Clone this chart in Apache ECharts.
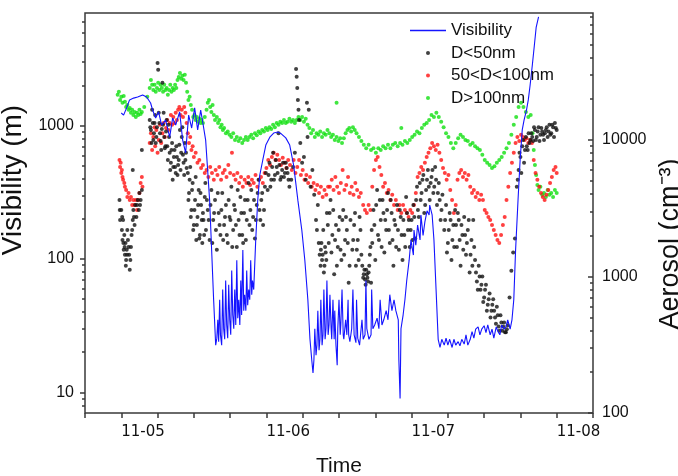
<!DOCTYPE html>
<html><head><meta charset="utf-8">
<script src="https://cdn.jsdelivr.net/npm/echarts@6/dist/echarts.min.js"></script>
<style>html,body{margin:0;padding:0;background:#fff}#c{width:678px;height:476px}</style>
</head><body><div id="c"></div>
<script>
// x values are hours after 11-05 00:00
const dayLabels = ['11-05', '11-06', '11-07', '11-08'];
const dayHours = [0, 24, 48, 72];
const visTickLabels = [10, 100, 1000];
const aeroTickLabels = [100, 1000, 10000];

const visibility = [
[0,1245],[0.38,1200],[0.88,1360],[1.37,1560],[2.04,1610],[2.7,1640],[3.53,1700],[4.19,1640],[4.85,1480],[5.18,1310],[5.68,1140],[6.17,1270],[6.67,1010],[7.33,1100],[8.0,820],[8.49,1140],[8.99,1010],[9.65,1270],[10.15,780],[10.64,625],[11.14,1200],[11.64,960],[12.13,1360],[12.63,930],[13.13,1310],[13.46,1070],[13.95,780],[14.28,465],[14.61,275],[14.94,117],[15.27,49.5],[15.61,22.6],
[15.8,25.5],[15.96,35],[16.1,24],[16.27,49.5],[16.4,27],[16.6,22.6],[16.77,59],[16.93,30],[17.1,25],[17.26,69],[17.43,32],[17.6,25.5],[17.76,64],[17.93,35],[18.1,27],[18.26,82],[18.43,38],[18.6,30],[18.76,59],[18.93,32],[19.1,98],[19.26,36],[19.42,49.5],[19.6,32],[19.76,69],[19.9,38],[20.1,117],[20.25,41],[20.4,54],[20.6,41],[20.74,82],[20.9,45],[21.07,59],[21.24,49.5],[21.4,98],[21.57,54],[21.7,69],[21.9,59],[22.23,139],[22.56,275],[22.9,426],[23.4,553],[23.9,716],[24.56,820],[25.2,880],[25.9,897],[26.5,865],[27.2,810],[27.85,716],[28.5,505],[29.2,275],[29.85,165],[30.35,98],[30.85,49.5],[31.2,25],[31.5,17.4],[31.7,14],
[31.85,17.4],[32.0,30],[32.2,19],[32.35,22.6],[32.5,41],[32.7,20.7],[32.85,25],[33.0,49.5],[33.2,22.6],[33.35,27],[33.5,59],[33.7,25],[33.85,30],[34.0,69],[34.2,27],[34.35,32],[34.5,54],[34.7,30],[34.8,25],[35.0,49.5],[35.2,25],[35.3,41],[35.5,22.6],[35.7,16],[35.8,30],[36.0,49.5],[36.2,27],[36.3,32],[36.5,59],[36.7,27],[36.8,25],[37.1,35],[37.3,27],[37.5,49.5],[37.6,27],[37.8,24],[38.1,30],[38.3,59],[38.5,27],[38.8,23.6],[38.9,49.5],[39.1,25.5],[39.4,22.6],[39.8,35],[40.0,25],[40.3,27],[40.45,69],[40.6,30],[40.95,25],[41.3,27],[41.4,59],[41.6,30],[41.9,32],[42.3,36],[42.6,30],[42.8,49.5],[43.1,32],[43.4,35],[43.8,41],[44.1,35],[44.4,54],[44.75,41],[45.1,49.5],[45.4,41],[45.8,35],[45.9,17.4],[46.1,9],[46.25,30],[46.6,38],[46.9,49.5],[47.2,69],[47.6,98],[47.9,139],[48.3,107],[48.4,165],[48.7,127],[49.0,180],[49.4,139],[49.55,214],[49.9,150],[50.2,190],[50.56,230],[50.9,214],[51.0,254],[51.4,214],[51.7,139],[52.05,59],[52.4,25],[52.7,21.7],[53.0,25],[53.4,22.6],[53.7,25.5],[54.0,22.6],[54.3,25],[54.7,21.7],[55.0,25],[55.3,22.6],[55.7,24],[56.0,22.3],[56.3,25],[56.7,23],[57.0,27],[57.3,22.6],[57.7,25],[58.0,28.5],[58.3,25.5],[58.6,29.8],[59.0,31],[59.3,27],[59.6,29.8],[60.0,31.6],[60.3,28],[60.6,32],[61.0,27],[61.3,29.8],[61.6,25.5],[62.0,31],[62.3,28.5],[62.6,27],[62.9,32],[63.3,29.8],[63.6,31],[63.9,35],[64.3,29.8],[64.6,35],[64.9,49.5],[65.2,117],[65.6,275],[65.95,553],[66.3,930],[66.6,1100],[67.0,1310],[67.3,1560],[67.6,2010],[67.96,2830],[68.3,3990],[68.6,5450],[69.0,6550]
];

const dSmall = [
[-0.3,3630],[-0.2,2590],[0.0,3070],[0.1,2190],[0.2,1850],[0.3,2590],[0.4,1570],[0.5,2010],[0.6,1440],[0.7,1760],[0.8,1320],[0.9,1570],[1.0,2190],[1.1,1850],[1.3,1440],[1.4,1120],[1.5,1320],[1.6,1640],[1.8,2190],[1.9,2590],[1.9,6030],[2.0,3070],[2.2,2380],[2.3,3340],[2.5,2730],[2.7,3630],[2.9,3070],[3.0,4090],[3.2,3630],[3.4,4300],[3.4,8450],
[-0.25,3070],[0.15,2730],[0.35,1760],[0.55,1640],[0.75,1200],[0.95,1440],[1.2,1640],[1.7,2010],[2.1,2730],[2.6,3340],[3.1,3340],
[4.7,14000],[4.9,11800],[5.1,16600],[5.3,10000],[5.5,13300],[5.7,9500],[5.9,12400],[6.0,36600],[6.1,32600],[6.2,15800],[6.4,11200],[6.6,8450],[6.8,26200],[6.9,12900],[7.1,10500],[7.3,9000],[7.5,14000],
[4.8,12400],[5.0,9500],[5.2,13300],[5.4,11200],[5.6,15200],[5.8,10500],[6.3,13300],[6.5,9800],[6.7,12000],[7.0,15800],[7.2,8700],[7.4,11500],[7.6,9000],[7.8,12900],[8.0,8040],[8.2,6800],[8.4,9500],[8.6,6340],[8.8,8450],[9.0,5730],[9.2,7500],[9.4,6560],[9.6,9200],[9.8,6030],[10.0,10500],[10.2,7800],[10.4,5540],[10.6,7130],[10.8,6240],
[7.7,7130],[7.9,10500],[8.1,6030],[8.3,8450],[8.5,5100],[8.7,7500],[8.9,6340],[9.1,9000],[9.3,5540],[9.5,7130],[9.7,11800],[9.9,8040],[10.1,12400],[10.3,6800],[10.5,9500],[10.7,8040],
[11.0,5730],[11.2,4090],[11.4,6340],[11.6,3070],[11.8,4840],[12.0,2380],[12.2,3630],[12.4,1850],[12.6,2730],[12.8,4300],[13.0,2010],[13.2,3340],[13.4,1760],[13.6,2590],[13.8,3820],
[11.1,3630],[11.3,5100],[11.5,2730],[11.7,4300],[11.9,2190],[12.1,3070],[12.3,5360],[12.5,2380],[12.7,3340],[12.9,1900],[13.1,4090],[13.3,2590],[13.5,2920],[13.7,2010],[13.9,4840],
[14.0,2190],[14.3,3070],[14.6,1850],[14.9,4300],[15.2,2590],[15.5,3630],[15.8,1570],[16.1,2920],[16.4,2010],[16.7,4090],[17.0,2380],[17.3,3340],[17.6,1760],[17.9,2730],[18.2,4530],[18.5,2190],[18.8,3070],[19.1,1640],[19.4,2590],[19.7,3820],[20.0,2010],[20.3,2920],[20.6,1850],
[14.15,3630],[14.45,2590],[14.75,3340],[15.05,1760],[15.35,2920],[15.65,2190],[15.95,4090],[16.25,2380],[16.55,3070],[16.85,1850],[17.15,2730],[17.45,2010],[17.75,3630],[18.05,2590],[18.35,1640],[18.65,3340],[18.95,2380],[19.25,4300],[19.55,2010],[19.85,2920],[20.15,1760],[20.45,3630],[20.75,2590],
[20.9,3630],[21.2,2380],[21.5,4300],[21.8,2730],[22.1,1900],[22.4,3340],[22.7,5100],[23.0,2590],[23.3,4090],[23.6,3070],[23.9,5730],
[21.05,4840],[21.35,3070],[21.65,2190],[21.95,3630],[22.25,2590],[22.55,4090],[22.85,3070],[23.15,3630],[23.45,2380],[23.75,4530],
[24.2,4300],[24.5,6800],[24.8,5100],[25.1,8040],[25.4,5540],[25.7,6340],[26.0,11200],[26.3,5100],[26.6,6030],[26.9,5360],[27.2,6800],[27.5,5730],
[24.35,5540],[24.65,4530],[24.95,6340],[25.25,5100],[25.55,7130],[25.85,5730],[26.15,6560],[26.45,5360],[26.75,6800],[27.05,5730],[27.35,6240],[27.65,5100],
[27.8,4530],[28.1,5100],[28.4,6340],[28.7,8040],[28.9,33000],[29.0,29000],[29.1,24000],[29.2,19600],[29.3,16600],[29.4,14000],[29.6,9500],[29.9,6800],[30.2,7500],[30.5,5100],[30.7,18700],[30.8,10500],[31.0,16600],[31.3,4530],[31.6,6030],[31.9,3960],
[32.2,2590],[32.5,3340],[32.8,1440],[33.0,1570],[33.2,1320],[33.4,2190],[33.6,1200],[33.8,1500],[34.0,2920],[34.3,1760],[34.6,3630],[34.9,2010],[35.2,1040],[35.5,2380],[35.8,1640],[36.1,2730],[36.4,1320],[36.7,3070],[37.0,1850],[37.3,2190],[37.6,900],[37.9,2590],
[32.35,2190],[32.65,1760],[32.95,1200],[33.1,1760],[33.3,1440],[33.5,1070],[33.7,1640],[33.9,1320],[34.15,2380],[34.45,2920],[34.75,1500],[35.05,3070],[35.35,1850],[35.65,1200],[35.95,2190],[36.25,1570],[36.55,2590],[36.85,1440],[37.15,2730],[37.45,1760],[37.75,1200],
[38.2,1570],[38.5,2380],[38.8,1200],[39.1,1850],[39.4,2730],[39.7,1440],[40.0,980],[40.2,1120],[40.4,870],[40.6,1040],[40.8,920],[41.0,1200],[41.2,1640],[41.4,2190],
[38.35,1850],[38.65,2920],[38.95,1570],[39.25,1320],[39.55,2190],[39.85,1200],[40.1,1040],[40.3,950],[40.5,1120],[40.7,980],[40.9,1070],[41.1,1440],[41.3,900],[41.5,1760],
[41.7,3070],[42.0,1320],[42.3,4300],[42.6,1850],[42.9,2590],[43.2,3630],[43.5,1500],[43.8,2190],[44.1,4090],[44.4,1760],[44.7,2920],[45.0,1200],[45.3,2380],[45.6,3340],[45.9,1570],[46.2,2730],[46.5,1320],[46.8,2010],[47.1,3820],[47.4,2190],
[41.85,2380],[42.15,3340],[42.45,2010],[42.75,3630],[43.05,1640],[43.35,2920],[43.65,2590],[43.95,3070],[44.25,2190],[44.55,3630],[44.85,1850],[45.15,2590],[45.45,1640],[45.75,2190],[46.05,3070],[46.35,2010],[46.65,2590],[46.95,1640],[47.25,2920],[47.55,2590],
[47.7,1640],[48.0,2590],[48.3,3340],[48.6,1900],[48.9,4530],[49.2,2730],[49.5,3630],[49.8,5100],[50.1,2920],[50.4,4300],[50.7,6030],[51.0,3630],[51.3,5360],[51.6,4090],[51.9,6340],[52.2,3340],[52.5,4840],[52.8,2590],[53.1,3960],
[47.85,2190],[48.15,1850],[48.45,2730],[48.75,3630],[49.05,3070],[49.35,4840],[49.65,4090],[49.95,5540],[50.25,3340],[50.55,5100],[50.85,4530],[51.15,4840],[51.45,6030],[51.75,4530],[52.05,5100],[52.35,4090],[52.65,3630],[52.95,3070],
[53.4,2190],[53.7,3340],[54.0,1760],[54.3,2920],[54.6,1320],[54.9,2380],[55.2,3070],[55.5,1640],[55.8,2590],[56.1,1200],[56.4,2010],[56.7,2730],[57.0,1440],[57.3,2190],[57.6,1070],[57.9,1850],[58.2,2590],[58.5,1320],
[53.55,2590],[53.85,1500],[54.15,2190],[54.45,2590],[54.75,1850],[55.05,1640],[55.35,2380],[55.65,2920],[55.95,1850],[56.25,2380],[56.55,1570],[56.85,2010],[57.15,1760],[57.45,2590],[57.75,1440],[58.05,1200],[58.35,1640],
[58.8,920],[59.1,1200],[59.4,800],[59.7,1000],[60.0,700],[60.3,870],[60.6,620],[60.9,750],[61.2,560],[61.5,680],[61.8,500],[62.1,600],[62.4,430],[62.7,520],[63.0,400],[63.3,460],[63.6,390],[63.9,440],
[58.65,1070],[58.95,800],[59.25,1000],[59.55,870],[59.85,650],[60.15,800],[60.45,560],[60.75,680],[61.05,500],[61.35,620],[61.65,560],[61.95,450],[62.25,520],[62.55,400],[62.85,460],[63.15,430],[63.45,390],[63.75,410],
[64.2,700],[64.5,1100],[64.8,1500],[65.1,1900],
[65.4,4530],[65.7,6030],[66.0,7500],[66.3,9000],[66.6,6800],[66.9,10500],[67.2,8450],[67.5,9500],
[65.55,5100],[65.85,8040],[66.15,5730],[66.45,10000],[66.75,8450],[67.05,9000],[67.35,11200],[67.65,10000],
[67.8,11200],[68.1,9800],[68.4,11800],[68.7,10500],[69.0,12400],[69.3,10900],[69.6,11500],[69.9,10000],[70.2,11800],[70.5,10500],[70.8,12900],[71.1,11200],[71.4,12400],[71.7,13300],[72.0,11800],
[67.95,10500],[68.25,12400],[68.55,10000],[68.85,11500],[69.15,9800],[69.45,12200],[69.75,10900],[70.05,11200],[70.35,12400],[70.65,11500],[70.95,10900],[71.25,12900],[71.55,10500],[71.85,12200]
];

const dMid = [
[-0.3,7130],[-0.2,6340],[-0.1,6800],[0.0,5730],[0.1,6030],[0.2,5360],[0.3,5100],[0.5,4840],[0.6,4530],[0.8,4300],[1.0,3820],[1.2,4090],[1.4,3630],[1.6,3820],[1.8,3340],[2.0,3630],[2.2,3340],[2.4,3630],[2.6,3070],[2.8,3630],[3.0,4090],[3.2,4840],[3.4,5360],[3.5,4530],
[4.7,9500],[4.9,11200],[5.1,8450],[5.3,10500],[5.5,12400],[5.6,9000],[5.8,11800],[6.0,8040],[6.2,10000],[6.4,12900],[6.6,9500],[6.8,11200],[7.0,13300],[7.2,10500],[7.4,12200],[7.6,14000],[7.8,11800],[8.0,13300],[8.2,15200],[8.4,12900],[8.6,14700],[8.8,13300],[9.0,15800],[9.2,14000],[9.4,16600],[9.6,17400],[9.8,15200],[10.0,16600],[10.2,14700],[10.4,17400],[10.6,15800],[10.8,13300],[11.0,11200],[11.2,9500],[11.4,10500],[11.6,8450],[11.8,9000],[12.0,7500],[12.3,8040],[12.6,6800],[12.9,7130],[13.2,6240],[13.5,6560],[13.8,5730],[14.1,6030],[14.4,5360],[14.7,6340],[15.0,5730],[15.3,5100],[15.6,6030],[15.9,5540],[16.2,6340],[16.5,5100],[16.8,5730],[17.1,6030],[17.4,5360],[17.7,6560],[18.0,5730],[18.3,8040],[18.6,5540],[18.9,5100],[19.2,5730],[19.5,4840],[19.8,5360],[20.1,4530],[20.4,5100],[20.7,4840],[21.0,5360],[21.3,4680],[21.6,5100],[21.9,4840],[22.2,5540],[22.5,4530],[22.8,5100],[23.1,5360],[23.4,4840],[23.7,5730],[24.0,6240],[24.3,7130],[24.6,6560],[24.9,7500],[25.2,8040],[25.5,7130],[25.8,7800],[26.1,7130],[26.4,6560],[26.7,7390],[27.0,6800],[27.3,6240],[27.6,7130],[27.9,6560],[28.2,6030],[28.5,7130],[28.8,5730],[29.1,6340],[29.4,7130],[29.7,5540],[30.0,6030],[30.3,5100],[30.6,5540],[30.9,4840],[31.2,5360],[31.5,4530],[31.8,4840],[32.1,4300],[32.4,4680],[32.7,4090],[33.0,4530],[33.3,3820],[33.6,4300],[33.9,3960],[34.2,4530],
[34.5,4530],[34.8,5100],[35.1,4300],[35.4,5360],[35.7,4530],[36.0,4090],[36.3,4840],[36.6,6030],[36.9,4300],[37.2,4680],[37.5,5360],[37.8,4090],[38.1,4530],[38.4,3960],[38.7,4840],[39.0,4300],[39.3,3820],[39.6,4090],[40.0,3340],[40.3,3070],[40.6,2920],[40.9,3340],[41.2,3070],[41.5,4530],[41.8,6030],[42.1,7130],[42.4,7500],[42.7,6340],[43.0,5540],[43.3,4530],[43.6,4840],[43.9,4090],[44.2,4300],[44.5,3630],[44.8,3960],[45.1,3340],[45.4,3630],[45.7,3070],[46.0,3340],[46.3,2920],[46.6,3340],[46.9,3070],[47.2,2920],[47.5,2730],[47.8,3070],[48.1,2920],[48.4,3340],[48.7,4090],[49.0,5360],[49.3,5730],[49.6,6340],[49.9,6030],[50.2,6800],[50.5,7500],[50.8,8040],[51.1,8700],[51.4,9500],[51.7,9000],[52.0,8450],[52.3,9200],[52.6,8040],[52.9,7130],[53.2,6240],[53.5,5730],[53.8,5100],[54.1,5540],[54.4,4300],[54.7,3630],[55.0,2920],[55.3,3340],[55.6,5100],[55.9,5730],[56.2,6030],[56.5,5360],[56.8,5730],[57.1,5100],[57.4,5540],[57.7,4530],[58.0,4090],[58.3,4300],[58.6,3820],[58.9,4090],[59.2,3630],[59.5,3960],[59.8,3630],[60.1,3070],[60.4,2920],[60.7,2730],[61.0,2590],[61.3,2380],[61.6,2190],[61.9,2010],[62.2,1850],[62.5,1760],[62.8,2010],[63.1,2380],[63.4,2730],[63.7,3630],[64.0,4530],[64.3,5730],[64.6,6800],[64.9,8040],[65.2,9500],[65.5,10500],[65.8,9800],[66.1,10900],[66.4,10500],[66.7,10000],[67.0,10300],[67.3,9500],[67.6,10000],[67.9,9500],[68.2,7130],[68.5,5730],[68.8,5100],[69.1,4530],[69.4,4090],[69.7,3820],[70.0,3630],[70.3,3960],[70.6,4300],[70.9,4840],[71.2,5360],[71.5,6030],[71.8,6340],[72.0,5730]
];

const dLarge = [
[-0.6,21400],[-0.4,22500],[-0.2,19600],[0.0,20700],[0.2,18700],[0.4,21000],[0.6,19000],[0.8,17400],[1.0,18000],[1.2,16600],[1.4,17100],[1.6,15800],[1.8,16600],[2.0,15200],[2.2,16000],[2.4,14700],[2.6,15800],[2.8,15200],[3.0,16600],[3.2,15500],[3.4,16000],[3.8,17400],[4.3,20700],
[4.7,24000],[4.9,27500],[5.1,25300],[5.3,23200],[5.5,25300],[5.7,22500],[5.9,24000],[6.1,26200],[6.3,23200],[6.5,25300],[6.7,24000],[6.9,22500],[7.1,25300],[7.3,23200],[7.5,24000],[7.7,21400],[7.9,23200],[8.1,25300],[8.3,22500],[8.5,24000],[8.7,23200],[8.9,25300],[9.1,24000],[9.3,27500],[9.5,28900],[9.7,30900],[9.9,28000],[10.1,29500],[10.3,27500],[10.5,30000],[10.7,26200],[10.9,22500],[11.1,19600],[11.3,20700],[11.5,18000],[11.7,16600],[11.9,14700],[12.1,15200],[12.3,14000],[12.5,14700],[12.7,13600],[12.9,14300],[13.1,13300],[13.3,14000],[13.5,13300],[13.8,14700],[14.1,16600],[14.3,18700],[14.5,19600],[14.7,17400],[14.9,16000],[15.1,18000],[15.3,15200],[15.5,14000],[15.8,14700],[16.0,13300],[16.2,14000],[16.4,12400],[16.6,12900],[16.8,11800],[17.0,12200],[17.3,11200],[17.6,11500],[17.9,10900],[18.2,10500],[18.5,11200],[18.8,10000],[19.1,10500],[19.4,9800],[19.7,10300],[20.0,9500],[20.3,10000],[20.6,10500],[20.9,10000],[21.2,10500],[21.5,10900],[21.8,10300],[22.1,11200],[22.4,10800],[22.7,11500],[23.0,11200],[23.3,11800],[23.6,11500],[23.9,12200],[24.2,11800],[24.5,12400],[24.8,12000],[25.1,12900],[25.4,12400],[25.7,13300],[26.0,12900],[26.3,13600],[26.6,13300],[26.9,14000],[27.2,13300],[27.5,13600],[27.8,14300],[28.1,13600],[28.4,14000],[28.7,13300],[29.0,14000],[29.3,14700],[29.6,14000],[29.9,14700],[30.2,13600],[30.5,14300],[30.8,12900],[31.1,12200],[31.4,11200],[31.7,11800],[32.0,10500],[32.3,11200],[32.6,10900],[32.9,11500],[33.2,10500],[33.5,11200],[33.8,10900],[34.1,11800],[34.4,11200],[34.7,10500],[35.0,10900],[35.3,10000],[35.6,10500],[35.9,9800],[36.2,10300],[36.5,9500],[36.8,10300],[35.6,18700],[37.1,11200],[37.4,11800],[37.7,12200],[38.0,11500],[38.3,12400],[38.6,11800],[38.9,11200],[39.3,10500],[39.7,9800],[40.1,9200],[40.5,8700],[40.9,9200],[41.3,8450],[41.7,8700],[42.1,8040],[42.5,8700],[42.9,8450],[43.3,9000],[43.7,8700],[44.1,9200],[44.5,8700],[44.9,9200],[45.3,9500],[45.7,9000],[46.1,9500],[46.3,12200],[46.5,9200],[46.9,9800],[47.3,9500],[47.7,10000],[48.1,10500],[48.5,10900],[48.9,11500],[49.3,11200],[49.7,12200],[50.1,12900],[50.5,13300],[50.9,14000],[51.3,15200],[51.7,14700],[52.1,15800],[52.5,14700],[52.9,13600],[53.3,12400],[53.7,11200],[54.1,10500],[54.5,9500],[54.9,8700],[55.3,9500],[55.7,10300],[56.1,10900],[56.5,10500],[56.9,10000],[57.3,9800],[57.7,9200],[58.1,9500],[58.5,9000],[58.9,8700],[59.3,8450],[59.7,7800],[60.1,7130],[60.5,6800],[60.9,6560],[61.3,6240],[61.7,6400],[62.1,6800],[62.5,7130],[62.9,7500],[63.3,8040],[63.7,8700],[64.1,9500],[64.5,10900],[64.9,12900],[65.3,14700],[65.7,17400],[66.1,18700],[66.5,17400],[66.9,16000],[67.3,14700],[67.7,15200],[68.0,11200],[68.2,8450],[68.4,6560],[68.6,5540],[68.8,4680],[69.0,4300],[69.3,4530],[69.6,3960],[69.9,4090],[70.2,3820],[70.5,4300],[70.8,3960],[71.1,4090],[71.4,3820],[71.7,4300],[72.0,4090]
];

const visMin = 7, visMax = 7000, aeroMin = 100, aeroMax = 85000;
const L = Math.log10;
function minorTicks(lo, hi) {
  const out = [];
  for (let e = -1; e <= 6; e++) for (let k = 2; k <= 9; k++) {
    const v = k * Math.pow(10, e);
    if (v > lo * 1.001 && v < hi * 0.999) out.push(L(v));
  }
  return out;
}
const axisColor = '#3a3a3a';
const txt = '#111';
const chart = echarts.init(document.getElementById('c'), null, {renderer: 'canvas'});
function tickAxis(pos, lo, hi, vals, len, inside, labels, extra) {
  return Object.assign({
    type: 'value', position: pos, min: L(lo), max: L(hi), splitLine: {show: false},
    axisLine: {show: false},
    axisTick: {show: true, customValues: vals, length: len, inside: inside, lineStyle: {color: axisColor, width: 1.5}},
    axisLabel: labels ? {show: true, customValues: vals, formatter: v => String(Math.round(Math.pow(10, v))), fontSize: 16, fontFamily: 'Liberation Sans', color: txt, margin: pos === 'left' ? 11 : 9} : {show: false}
  }, extra || {});
}
const legendText = {fontSize: 17, fontFamily: 'Liberation Sans', color: txt};
chart.setOption({
  animation: false,
  grid: {left: 85, right: 85, top: 13, bottom: 63, show: true, borderColor: axisColor, borderWidth: 1.5, containLabel: false, outerBoundsMode: 'none'},
  legend: [
    {orient: 'vertical', left: 410, top: 22, itemWidth: 36, itemHeight: 1.5, padding: 0,
     data: [{name: 'Visibility', icon: 'rect'}], textStyle: legendText},
    {orient: 'vertical', left: 426, top: 44.5, itemWidth: 36, itemHeight: 4, itemGap: 5.5, padding: 0,
     data: [{name: 'D<50nm', icon: 'circle'}, {name: '50<D<100nm', icon: 'circle'}, {name: 'D>100nm', icon: 'circle'}], textStyle: legendText}
  ],
  xAxis: [{
    type: 'value', min: -6, max: 78, interval: 6, splitLine: {show: false},
    axisLine: {show: false},
    axisTick: {show: true, length: 5, lineStyle: {color: axisColor, width: 1.5}},
    axisLabel: {formatter: v => { const i = dayHours.indexOf(v); return i >= 0 ? dayLabels[i] : ''; }, align: 'left', margin: 12, fontSize: 15, fontFamily: 'DejaVu Sans', color: txt},
    name: 'Time', nameLocation: 'middle', nameGap: 43, nameTextStyle: {fontSize: 21, fontFamily: 'Liberation Sans', color: txt}
  }],
  yAxis: [
    {type: 'log', logBase: 10, min: visMin, max: visMax, position: 'left', show: false},
    tickAxis('left', visMin, visMax, visTickLabels.map(L), 5, false, true, {
      name: 'Visibility (m)', nameLocation: 'middle', nameGap: 55,
      nameTextStyle: {fontSize: 28, fontFamily: 'Liberation Sans', color: txt, padding: [0, 0, 0, 66]}}),
    tickAxis('left', visMin, visMax, minorTicks(visMin, visMax), 3, false, false),
    {type: 'log', logBase: 10, min: aeroMin, max: aeroMax, position: 'right', show: false},
    tickAxis('right', aeroMin, aeroMax, aeroTickLabels.map(L), 5, true, true, {
      name: 'Aerosol (cm⁻³)', nameLocation: 'middle', nameGap: 61,
      nameTextStyle: {fontSize: 27, fontFamily: 'Liberation Sans', color: txt, padding: [0, 62, 0, 0]}}),
    tickAxis('right', aeroMin, aeroMax, minorTicks(aeroMin, aeroMax), 3, true, false)
  ],
  series: [
    {name: 'D>100nm', type: 'scatter', yAxisIndex: 3, data: dLarge, symbol: 'circle', symbolSize: 4, itemStyle: {color: '#10e010'}},
    {name: '50<D<100nm', type: 'scatter', yAxisIndex: 3, data: dMid, symbol: 'circle', symbolSize: 4, itemStyle: {color: '#ff1010'}},
    {name: 'D<50nm', type: 'scatter', yAxisIndex: 3, data: dSmall, symbol: 'circle', symbolSize: 4, itemStyle: {color: '#111111'}},
    {name: 'Visibility', type: 'line', yAxisIndex: 0, data: visibility, symbol: 'none', showSymbol: false, lineStyle: {color: '#1414ff', width: 1.1}, itemStyle: {color: '#1414ff'}}
  ]
});
</script>
</body></html>
